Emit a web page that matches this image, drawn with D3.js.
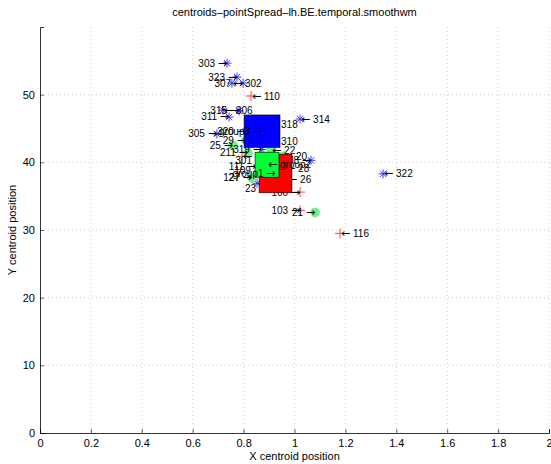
<!DOCTYPE html>
<html>
<head>
<meta charset="utf-8">
<script src="https://cdn.jsdelivr.net/npm/d3@7"></script>
<style>
  body { margin: 0; background: #fff; }
  text { font-family: "Liberation Sans", Arial, Helvetica, sans-serif; }
</style>
</head>
<body>
<div id="chart"></div>
<script>
// tick values
var xTicks = [0, 0.2, 0.4, 0.6, 0.8, 1, 1.2, 1.4, 1.6, 1.8, 2];
var yTicks = [0, 10, 20, 30, 40, 50];

// blue (3xx) points
var blueNames = ["303", "323", "302", "307", "306", "315", "311", "314", "318", "305", "320", "310", "319", "301", "308", "312", "322"];
var blueX = [0.735, 0.774, 0.754, 0.798, 0.719, 0.782, 0.743, 1.022, 0.896, 0.695, 0.809, 0.896, 0.872, 0.880, 1.065, 0.853, 1.348];
var blueY = [54.65, 52.6, 51.7, 51.7, 47.7, 47.6, 46.7, 46.4, 45.6, 44.2, 44.6, 43.1, 41.9, 40.3, 40.3, 36.9, 38.3];

// red (1xx) points
var redNames = ["110", "101", "111", "109", "127", "100", "103", "116"];
var redX = [0.829, 0.794, 0.849, 0.876, 0.833, 1.022, 1.022, 1.179];
var redY = [49.8, 40.9, 39.4, 38.8, 37.7, 35.6, 32.9, 29.5];

// green (2x) points
var greenNames = ["29", "25", "22", "211", "20", "28", "27", "26", "23", "21"];
var greenX = [0.809, 0.758, 0.908, 0.817, 0.955, 0.963, 0.833, 0.971, 0.896, 1.081];
var greenY = [43.3, 42.5, 41.8, 41.4, 40.9, 39.1, 37.7, 37.5, 36.2, 32.6];

// labels written before their point ("name ->")
var leftLabels = ["303", "323", "307", "315", "311", "305", "320", "319", "301", "308",
                  "111", "109", "127", "100", "103",
                  "29", "25", "211", "27", "23", "21", "group3", "group1"];

// group boxes: [x0, x1], [y0, y1]
var groupNames = ["group1", "group2", "group3"];
var groupXRange = [[0.861, 0.990], [0.845, 0.939], [0.802, 0.943]];
var groupYRange = [[35.5, 41.2], [37.8, 41.5], [42.2, 47.0]];
var groupColors = ["#ff0000", "#00ff33", "#0000ff"];

var W = 551, H = 464;
var margin = {top: 27, right: 2, bottom: 31, left: 40};
var width = W - margin.left - margin.right,
    height = H - margin.top - margin.bottom;

var svg = d3.select("#chart").append("svg")
    .attr("width", W).attr("height", H);
var g = svg.append("g")
    .attr("transform", "translate(" + margin.left + "," + margin.top + ")");

var x = d3.scaleLinear().domain([0, 2]).range([0, width]);
var y = d3.scaleLinear().domain([0, 60]).range([height, 0]);

// grid
g.selectAll(".vgrid").data(xTicks.slice(1)).enter().append("line")
    .attr("x1", d => x(d)).attr("x2", d => x(d))
    .attr("y1", 0).attr("y2", height)
    .attr("stroke", "#b0b0b0").attr("stroke-width", 0.6)
    .attr("stroke-dasharray", "1,3");
g.selectAll(".hgrid").data(yTicks.slice(1)).enter().append("line")
    .attr("x1", 0).attr("x2", width)
    .attr("y1", d => y(d)).attr("y2", d => y(d))
    .attr("stroke", "#b0b0b0").attr("stroke-width", 0.6)
    .attr("stroke-dasharray", "1,3");

// axes
var xAxis = d3.axisBottom(x).tickValues(xTicks).tickSize(-4).tickPadding(6)
    .tickFormat(d3.format("~g"));
var yAxis = d3.axisLeft(y).tickValues(yTicks).tickSize(-4).tickPadding(5);
var gx = g.append("g").attr("transform", "translate(0," + height + ")").call(xAxis);
var gy = g.append("g").call(yAxis);
[gx, gy].forEach(function(a) {
    a.select(".domain").attr("stroke", "#000").attr("stroke-width", 0.8);
    a.selectAll(".tick line").attr("stroke", "#000").attr("stroke-width", 0.6);
    a.selectAll("text").attr("font-size", 11).attr("fill", "#000")
        .style("font-family", '"Liberation Sans", Arial, sans-serif');
});

// points
function asPoints(names, xs, ys) {
    return names.map(function(n, i) { return {name: n, x: xs[i], y: ys[i]}; });
}
var blue = asPoints(blueNames, blueX, blueY);
var red = asPoints(redNames, redX, redY);
var green = asPoints(greenNames, greenX, greenY);

g.selectAll(".star").data(blue).enter().append("path")
    .attr("transform", d => "translate(" + x(d.x) + "," + y(d.y) + ")")
    .attr("d", "M-4.5,0H4.5M0,-4.5V4.5M-3.2,-3.2L3.2,3.2M-3.2,3.2L3.2,-3.2")
    .attr("stroke", "#2a2aff").attr("stroke-width", 0.9).attr("fill", "none");

g.selectAll(".plus").data(red).enter().append("path")
    .attr("transform", d => "translate(" + x(d.x) + "," + y(d.y) + ")")
    .attr("d", "M-5,0H5M0,-5V5")
    .attr("stroke", "#ff3030").attr("stroke-width", 0.9).attr("fill", "none");

g.selectAll(".dot").data(green).enter().append("circle")
    .attr("cx", d => x(d.x)).attr("cy", d => y(d.y)).attr("r", 4.5)
    .attr("fill", "#6ef08a").attr("stroke", "#5ee07a").attr("stroke-width", 0.5);

function isLeft(d) { return leftLabels.indexOf(d.name) >= 0; }

function addLabels(sel) {
    var t = sel.append("text")
        .attr("x", d => x(d.x) + (isLeft(d) ? 0 : 1))
        .attr("y", d => y(d.y))
        .attr("dy", "0.35em")
        .attr("font-size", 10)
        .attr("fill", "#000")
        .attr("text-anchor", d => isLeft(d) ? "end" : "start");
    t.each(function(d) {
        var el = d3.select(this);
        if (isLeft(d)) {
            el.append("tspan").text(d.name + " ");
            el.append("tspan").style("font-family", '"DejaVu Sans", sans-serif')
                .attr("font-size", 11).text("\u2192");
        } else {
            el.append("tspan").style("font-family", '"DejaVu Sans", sans-serif')
                .attr("font-size", 11).text("\u2190");
            el.append("tspan").text(" " + d.name);
        }
    });
}
addLabels(g.selectAll(".lb").data(blue).enter());
addLabels(g.selectAll(".lr").data(red).enter());
addLabels(g.selectAll(".lg").data(green).enter());

// group boxes
var groups = groupNames.map(function(n, i) {
    return {name: n, x0: groupXRange[i][0], x1: groupXRange[i][1],
            y0: groupYRange[i][0], y1: groupYRange[i][1], color: groupColors[i],
            x: (groupXRange[i][0] + groupXRange[i][1]) / 2,
            y: (groupYRange[i][0] + groupYRange[i][1]) / 2};
});
g.selectAll(".box").data(groups).enter().append("rect")
    .attr("x", d => x(d.x0)).attr("y", d => y(d.y1))
    .attr("width", d => x(d.x1) - x(d.x0)).attr("height", d => y(d.y0) - y(d.y1))
    .attr("fill", d => d.color).attr("stroke", "#000").attr("stroke-width", 0.6);
addLabels(g.selectAll(".lgrp").data(groups).enter());

// title and axis labels
svg.append("text").attr("x", margin.left + width / 2).attr("y", 16)
    .attr("text-anchor", "middle").attr("font-size", 11)
    .text("centroids\u2013pointSpread\u2013lh.BE.temporal.smoothwm");
svg.append("text").attr("x", margin.left + width / 2).attr("y", 460)
    .attr("text-anchor", "middle").attr("font-size", 11)
    .text("X centroid position");
svg.append("text")
    .attr("transform", "translate(16," + (margin.top + height / 2) + ") rotate(-90)")
    .attr("text-anchor", "middle").attr("font-size", 11)
    .text("Y centroid position");
</script>
</body>
</html>
